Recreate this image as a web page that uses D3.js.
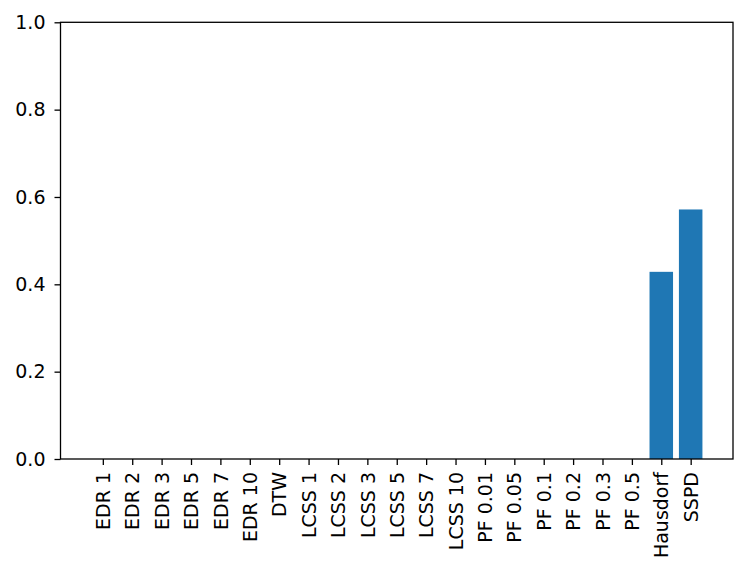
<!DOCTYPE html>
<html><head><meta charset="utf-8">
<script src="https://cdn.jsdelivr.net/npm/d3@7"></script>
<style>body{margin:0;background:#fff}svg{display:block}</style>
</head><body>
<script>
const categories = ["EDR 1","EDR 2","EDR 3","EDR 5","EDR 7","EDR 10","DTW","LCSS 1","LCSS 2","LCSS 3","LCSS 5","LCSS 7","LCSS 10","PF 0.01","PF 0.05","PF 0.1","PF 0.2","PF 0.3","PF 0.5","Hausdorf","SSPD"];
const values = [0,0,0,0,0,0,0,0,0,0,0,0,0,0,0,0,0,0,0,0.4286,0.5714];
const yTicks = [0,0.2,0.4,0.6,0.8,1.0];

const W = 748, H = 579;
const m = {left:60.5, right:733, top:22.3, bottom:459};
const svg = d3.select("body").append("svg").attr("width",W).attr("height",H);
const n = categories.length;
const x = d3.scaleLinear().domain([-0.4 - 0.05*(n-0.2), (n-1)+0.4 + 0.05*(n-0.2)]).range([m.left, m.right]);
const y = d3.scaleLinear().domain([0,1]).range([m.bottom, m.top]);
const bw = 0.8;

svg.append("g").selectAll("rect").data(values).join("rect")
  .attr("x",(d,i)=>x(i-bw/2)).attr("width",(d,i)=>x(i+bw/2)-x(i-bw/2))
  .attr("y",d=>y(d)).attr("height",d=>y(0)-y(d))
  .attr("fill","#1f77b4");

const font = "DejaVu Sans, sans-serif";
const yAxis = svg.append("g").attr("transform",`translate(${m.left},0)`)
  .call(d3.axisLeft(y).tickValues(yTicks).tickFormat(d3.format(".1f")).tickSize(6).tickPadding(9));
const xAxis = svg.append("g").attr("transform",`translate(0,${m.bottom})`)
  .call(d3.axisBottom(x).tickValues(d3.range(n)).tickFormat(i=>categories[i]).tickSize(6).tickPadding(6));
xAxis.selectAll("text").attr("transform","rotate(-90)").attr("text-anchor","end")
  .attr("x",-13).attr("y",0).attr("dy","0.35em");
[xAxis,yAxis].forEach(g=>{
  g.select(".domain").remove();
  g.selectAll("line").attr("stroke","#000").attr("stroke-width",1.3);
  g.selectAll("text").attr("font-family",font).attr("font-size",19).attr("fill","#000");
});
svg.append("rect").attr("x",m.left).attr("y",m.top).attr("width",m.right-m.left).attr("height",m.bottom-m.top)
  .attr("fill","none").attr("stroke","#000").attr("stroke-width",1.3);
</script>
</body></html>
